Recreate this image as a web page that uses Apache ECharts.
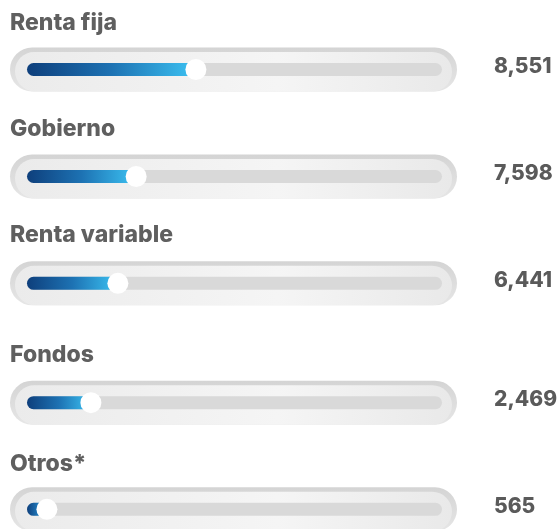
<!DOCTYPE html>
<html>
<head>
<meta charset="utf-8">
<style>
  html, body { margin: 0; padding: 0; background: #fff; }
  #chart { width: 558px; height: 529px; }
</style>
<script src="https://cdn.jsdelivr.net/npm/echarts@6/dist/echarts.min.js"></script>
</head>
<body>
<div id="chart"></div>
<script>
// categories and the numbers printed on the right
const categories = ['Renta fija', 'Gobierno', 'Renta variable', 'Fondos', 'Otros*'];
const values = [8551, 7598, 6441, 2469, 565];
// how far each bar is filled along its track (percent)
const fillPct = [40.7, 26.3, 21.9, 15.4, 4.8];

// layout of each row (track centre y, label top y)
const rowCenter = [69.5, 176.5, 283.3, 402.7, 511.7];
const labelTop = [12, 118, 224, 344, 453];

const chart = echarts.init(document.getElementById('chart'));

const grids = [], xAxes = [], yAxes = [], titles = [], series = [];

function pillItem(params, api) {
  const s = api.coord([0, 0]);
  const e = api.coord([100, 0]);
  const cy = s[1];
  return {
    type: 'group',
    children: [
      {
        type: 'rect',
        shape: { x: s[0] - 17, y: cy - 22, width: e[0] - s[0] + 32, height: 44, r: 22 },
        style: {
          fill: new echarts.graphic.LinearGradient(0, 0, 0, 1, [
            { offset: 0, color: '#d4d4d4' },
            { offset: 1, color: '#e6e6e6' }
          ])
        }
      },
      {
        type: 'rect',
        shape: { x: s[0] - 12, y: cy - 17.5, width: e[0] - s[0] + 22, height: 39.5, r: [19.75, 19.75, 19.75, 21] },
        style: {
          fill: new echarts.graphic.LinearGradient(0, 0, 1, 0, [
            { offset: 0, color: '#ebebeb' },
            { offset: 0.6, color: '#f5f5f5' },
            { offset: 1, color: '#e9e9e9' }
          ])
        }
      }
    ]
  };
}

categories.forEach((name, i) => {
  grids.push({ left: 27, right: 116, top: rowCenter[i] - 22, height: 44 });
  xAxes.push({ gridIndex: i, type: 'value', min: 0, max: 100, show: false });
  yAxes.push({ gridIndex: i, type: 'category', data: [name], show: false });
  titles.push({
    text: name,
    left: 10,
    top: labelTop[i],
    padding: 0,
    textStyle: { fontFamily: 'Inter', fontWeight: 800, fontSize: 23, color: '#5f5f5f' }
  });

  series.push({
    type: 'custom',
    xAxisIndex: i,
    yAxisIndex: i,
    silent: true,
    z: 1,
    data: [[0, 0]],
    renderItem: pillItem
  });
  series.push({
    type: 'bar',
    xAxisIndex: i,
    yAxisIndex: i,
    silent: true,
    z: 2,
    barWidth: 13,
    barGap: '-100%',
    data: [100],
    itemStyle: { color: '#d9d9d9', borderRadius: 6.5 },
    label: {
      show: true,
      position: 'right',
      distance: 52,
      offset: [0, -3],
      formatter: () => values[i].toLocaleString('en-US'),
      fontFamily: 'Inter',
      fontWeight: 800,
      fontSize: 21,
      color: '#5a5a5a'
    }
  });
  series.push({
    type: 'bar',
    xAxisIndex: i,
    yAxisIndex: i,
    silent: true,
    z: 3,
    barWidth: 13,
    barGap: '-100%',
    data: [fillPct[i]],
    itemStyle: {
      borderRadius: 6.5,
      color: new echarts.graphic.LinearGradient(0, 0, 1, 0, [
        { offset: 0, color: '#0e3f7c' },
        { offset: 0.5, color: '#1d72b3' },
        { offset: 1, color: '#3cc2f2' }
      ])
    }
  });
  series.push({
    type: 'scatter',
    xAxisIndex: i,
    yAxisIndex: i,
    silent: true,
    z: 4,
    symbolSize: 21,
    data: [[fillPct[i], 0]],
    itemStyle: { color: '#ffffff', opacity: 1 }
  });
});

chart.setOption({
  animation: false,
  title: titles,
  grid: grids,
  xAxis: xAxes,
  yAxis: yAxes,
  series: series
});
</script>
</body>
</html>
